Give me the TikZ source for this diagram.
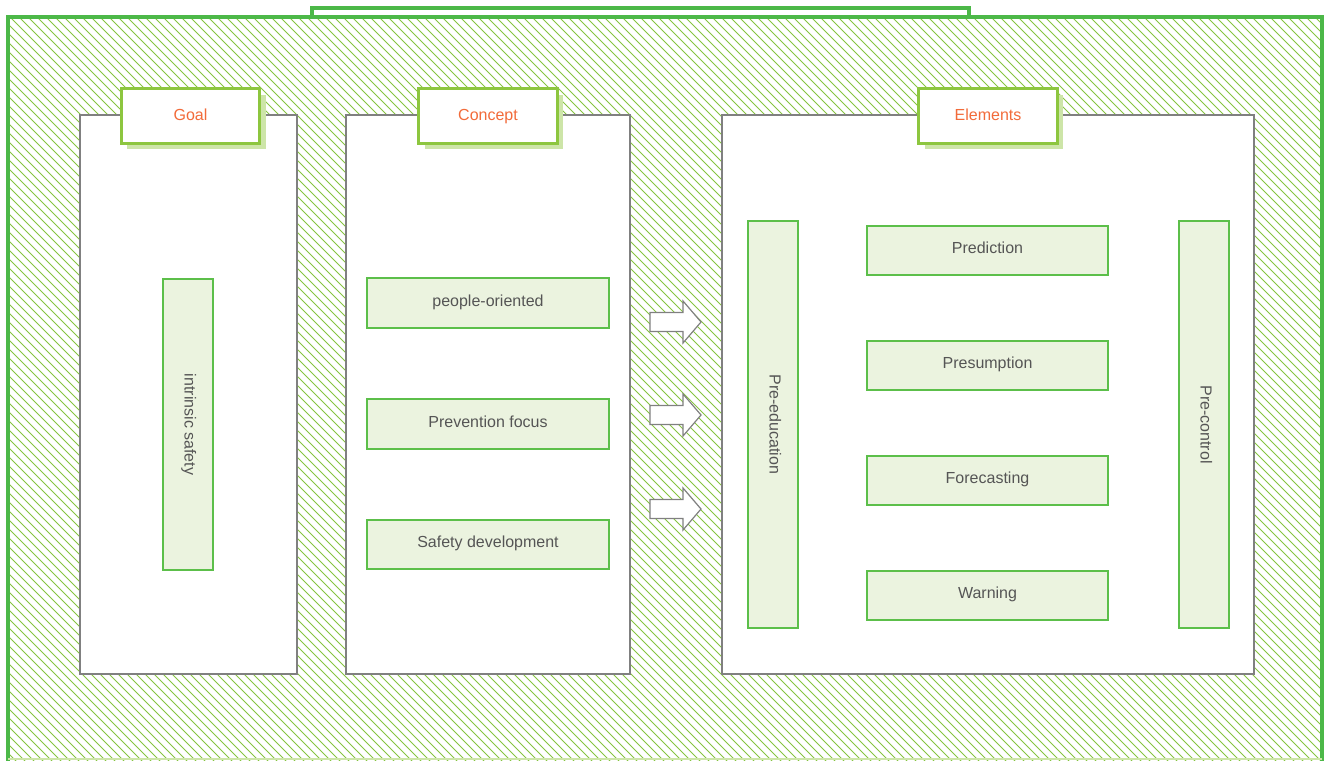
\documentclass[tikz,border=0pt]{standalone}
\usepackage{fontspec}
\setmainfont{Liberation Sans}
\usetikzlibrary{shadows}
\definecolor{outergreen}{HTML}{4CB848}
\definecolor{hatchgreen}{HTML}{86C440}
\definecolor{tabgreen}{HTML}{8DC63F}
\definecolor{shadowgreen}{HTML}{CDE5A8}
\definecolor{boxgreen}{HTML}{5CBF4A}
\definecolor{boxfill}{HTML}{EBF3DF}
\definecolor{txtgray}{HTML}{555555}
\definecolor{titleorange}{HTML}{F26B3A}
\definecolor{panelgray}{HTML}{808080}
\begin{document}
\begin{tikzpicture}[x=0.75pt,y=-0.75pt,
  every node/.style={text height=0.72em,text depth=0.22em},
  panel/.style={draw=panelgray,fill=white,line width=0.9pt},
  tabbox/.style={draw=tabgreen,fill=white,line width=2.2pt,text=titleorange,
    minimum width=104pt,minimum height=41pt,inner sep=0pt,font=\fontsize{12pt}{14pt}\selectfont,
    text depth=0.02em,
    drop shadow={shadow xshift=4.5pt,shadow yshift=-4.5pt,fill=shadowgreen,opacity=1}},
  item/.style={draw=boxgreen,fill=boxfill,line width=1.6pt,text=txtgray,inner sep=0pt,
    font=\fontsize{12pt}{14pt}\selectfont},
  hbox/.style={item,minimum width=181pt,minimum height=37pt},
  vbox/.style={item,minimum width=37pt},
  vlabel/.style={text=txtgray,rotate=-90,font=\fontsize{12pt}{14pt}\selectfont},
  blockarrow/.style={draw=panelgray,fill=white,line width=0.9pt}
]
\useasboundingbox (0,0) rectangle (1330,760);
% top tab
\draw[outergreen,line width=2.4pt,fill=white] (312,17) -- (312,8) -- (969,8) -- (969,17);
% outer hatched area
\begin{scope}
  \clip (8,17) rectangle (1322,760);
  \foreach \i in {-800,-791,...,1330} {
    \draw[hatchgreen,line width=0.75pt] (\i,17) -- (\i+745,762);
  }
\end{scope}
\draw[outergreen,line width=2.4pt] (8,762) -- (8,17) -- (1322,17) -- (1322,762);
\draw[shadowgreen,line width=1pt] (8,759) -- (1322,759);

% panels
\node[panel,minimum width=162.75pt,minimum height=419.25pt,inner sep=0pt] (goalpanel) at (188.5,394.5) {};
\node[panel,minimum width=213pt,minimum height=419.25pt,inner sep=0pt] (conceptpanel) at (488,394.5) {};
\node[panel,minimum width=399pt,minimum height=419.25pt,inner sep=0pt] (elempanel) at (988,394.5) {};

% tabs
\node[tabbox] (goal) at (190.5,116) {Goal};
\node[tabbox] (concept) at (488,116) {Concept};
\node[tabbox] (elements) at (988,116) {Elements};

% goal
\node[vbox,minimum height=218pt] (intrinsic) at (188,424.5) {};
\node[vlabel] at (intrinsic.center) {intrinsic safety};

% concept
\node[hbox] (people) at (488,303) {people-oriented};
\node[hbox] (prevention) at (488,424) {Prevention focus};
\node[hbox] (safetydev) at (488,544.5) {Safety development};

% elements
\node[vbox,minimum height=305pt] (preedu) at (773,424.5) {};
\node[vlabel] at (preedu.center) {Pre-education};
\node[vbox,minimum height=305pt] (precontrol) at (1204,424.5) {};
\node[vlabel] at (precontrol.center) {Pre-control};
\node[hbox] (prediction) at (987.5,250.5) {Prediction};
\node[hbox] (presumption) at (987.5,365.5) {Presumption};
\node[hbox] (forecasting) at (987.5,480.5) {Forecasting};
\node[hbox] (warning) at (987.5,595.5) {Warning};

% block arrows
\foreach \c/\n in {322/a1,415/a2,509/a3} {
  \coordinate (\n) at (650,\c);
  \draw[blockarrow] (\n) ++(0,-9.5) -- ++(33,0) -- ++(0,-11.5) -- ++(18,21) -- ++(-18,21) -- ++(0,-11.5) -- ++(-33,0) -- cycle;
}
\end{tikzpicture}
\end{document}
